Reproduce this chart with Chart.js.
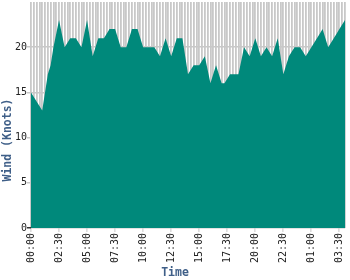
<!DOCTYPE html>
<html>
<head>
<meta charset="utf-8">
<script src="https://cdn.jsdelivr.net/npm/chart.js@4/dist/chart.umd.min.js"></script>
<style>
  body { margin: 0; background: #fff; }
  canvas { display: block; }
</style>
</head>
<body>
<canvas id="chartWind" width="350" height="280"></canvas>
<script>
// 15 minute readings, 00:00 to 04:00 next day
var times = [
    '00:00', '00:15', '00:30', '00:45', '01:00', '01:15', '01:30', '01:45', '02:00', '02:15', '02:30', '02:45',
    '03:00', '03:15', '03:30', '03:45', '04:00', '04:15', '04:30', '04:45', '05:00', '05:15', '05:30', '05:45',
    '06:00', '06:15', '06:30', '06:45', '07:00', '07:15', '07:30', '07:45', '08:00', '08:15', '08:30', '08:45',
    '09:00', '09:15', '09:30', '09:45', '10:00', '10:15', '10:30', '10:45', '11:00', '11:15', '11:30', '11:45',
    '12:00', '12:15', '12:30', '12:45', '13:00', '13:15', '13:30', '13:45', '14:00', '14:15', '14:30', '14:45',
    '15:00', '15:15', '15:30', '15:45', '16:00', '16:15', '16:30', '16:45', '17:00', '17:15', '17:30', '17:45',
    '18:00', '18:15', '18:30', '18:45', '19:00', '19:15', '19:30', '19:45', '20:00', '20:15', '20:30', '20:45',
    '21:00', '21:15', '21:30', '21:45', '22:00', '22:15', '22:30', '22:45', '23:00', '23:15', '23:30', '23:45',
    '00:00', '00:15', '00:30', '00:45', '01:00', '01:15', '01:30', '01:45', '02:00', '02:15', '02:30', '02:45',
    '03:00', '03:15', '03:30', '03:45', '04:00'
];

var windKnots = [
    15, 14.5, 14, 13.5, 13, 15, 17, 18, 20, 21.5, 23, 21.5,
    20, 20.5, 21, 21, 21, 20.5, 20, 21.5, 23, 21, 19, 20,
    21, 21, 21, 21.5, 22, 22, 22, 21, 20, 20, 20, 21,
    22, 22, 22, 21, 20, 20, 20, 20, 20, 19.5, 19, 20,
    21, 20, 19, 20, 21, 21, 21, 19, 17, 17.5, 18, 18,
    18, 18.5, 19, 17.5, 16, 17, 18, 17, 16, 16, 16.5, 17,
    17, 17, 17, 18.5, 20, 19.5, 19, 20, 21, 20, 19, 19.5,
    20, 19.5, 19, 20, 21, 19, 17, 18, 19, 19.5, 20, 20,
    20, 19.5, 19, 19.5, 20, 20.5, 21, 21.5, 22, 21, 20, 20.5,
    21, 21.5, 22, 22.5, 23
];

var tickLabels = ['00:00', '02:30', '05:00', '07:30', '10:00', '12:30', '15:00', '17:30', '20:00', '22:30', '01:00', '03:30'];
var tickEvery = 10;
var yTicks = [0, 5, 10, 15, 20];

var xTitle = 'Time';
var yTitle = 'Wind (Knots)';
var titleColor = '#3f5f88';
var fillColor = '#00897b';
var gridColor = '#c8c8c8';

// axis titles are centred on the whole canvas, not the plot
var axisTitles = {
    id: 'axisTitles',
    afterDraw: function (chart) {
        var ctx = chart.ctx;
        ctx.save();
        ctx.font = 'bold 11.5px "DejaVu Sans Mono"';
        ctx.fillStyle = titleColor;
        ctx.textAlign = 'center';
        ctx.textBaseline = 'middle';
        ctx.fillText(xTitle, chart.width / 2, 273);
        ctx.translate(8, chart.height / 2);
        ctx.rotate(-Math.PI / 2);
        ctx.fillText(yTitle, 0, 0);
        ctx.restore();
    }
};

var ctx = document.getElementById('chartWind').getContext('2d');
var chartWind = new Chart(ctx, {
    type: 'line',
    data: {
        labels: times,
        datasets: [{
            data: windKnots,
            fill: 'origin',
            backgroundColor: fillColor,
            borderColor: fillColor,
            borderWidth: 0,
            pointRadius: 0,
            tension: 0
        }]
    },
    options: {
        responsive: false,
        animation: false,
        layout: { padding: { top: 2, right: 5, left: 0, bottom: 0 } },
        plugins: {
            legend: { display: false },
            tooltip: { enabled: false }
        },
        scales: {
            x: {
                offset: false,
                border: { display: false },
                grid: {
                    color: gridColor,
                    lineWidth: 1.8,
                    tickLength: 4,
                    tickWidth: 1,
                    tickColor: function (c) {
                        return c.index % tickEvery === 0 ? gridColor : 'transparent';
                    }
                },
                ticks: {
                    autoSkip: false,
                    maxRotation: 90,
                    minRotation: 90,
                    padding: 1,
                    color: '#222',
                    font: { family: 'DejaVu Sans Mono', size: 10 },
                    callback: function (val, idx) {
                        return idx % tickEvery === 0 ? tickLabels[idx / tickEvery] : '';
                    }
                },
                afterFit: function (scale) {
                    scale.height = 52;
                    scale.paddingLeft = 0;
                    scale.paddingRight = 0;
                }
            },
            y: {
                min: 0,
                max: 25,
                border: { display: false },
                afterBuildTicks: function (scale) {
                    scale.ticks = yTicks.map(function (v) { return { value: v }; });
                },
                grid: {
                    color: gridColor,
                    lineWidth: 1.5,
                    tickLength: 4,
                    tickColor: function (c) {
                        return c.tick && c.tick.value === 0 ? '#333' : gridColor;
                    }
                },
                ticks: {
                    padding: 0,
                    color: '#222',
                    font: { family: 'DejaVu Sans Mono', size: 10 }
                },
                afterFit: function (scale) {
                    scale.width = 31;
                    scale.paddingTop = 0;
                    scale.paddingBottom = 0;
                }
            }
        }
    },
    plugins: [axisTitles]
});
</script>
</body>
</html>
